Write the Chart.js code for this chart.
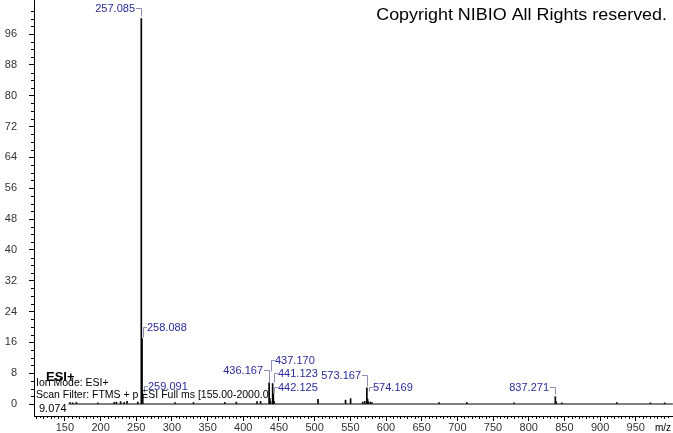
<!DOCTYPE html>
<html>
<head>
<meta charset="utf-8">
<script src="https://cdn.jsdelivr.net/npm/chart.js@4.4.0/dist/chart.umd.min.js"></script>
<style>
  body { margin: 0; background: #fff; }
  canvas { display: block; }
</style>
</head>
<body>
<canvas id="spectrum" width="673" height="433"></canvas>
<script>
// spectrum sticks (m/z, relative intensity %)
const mzValues = [157.1, 161.0, 166.1, 196.1, 219.1, 222.1, 228.1, 233.1, 237.1, 252.1,
  257.085, 258.088, 259.091, 304.3, 330.2, 374.1, 390.3, 419.2, 424.2,
  436.167, 437.170, 438.17, 441.123, 442.125, 443.13, 504.7, 543.3, 550.4,
  567.2, 570.2, 573.167, 574.169, 575.17, 578.2, 580.2, 674.4, 713.2, 779.4,
  837.271, 838.27, 846.4, 923.5, 970.6, 990.5];
const intensities = [0.4, 0.3, 0.4, 0.3, 0.4, 0.5, 0.6, 0.4, 0.7, 0.5,
  100, 17, 2.5, 0.4, 0.4, 0.4, 0.5, 0.6, 0.7,
  5.5, 1.5, 0.6, 5.3, 2.6, 0.7, 1.2, 1.0, 1.4,
  0.5, 0.7, 4.2, 1.3, 0.6, 0.5, 0.4, 0.4, 0.4, 0.3,
  1.9, 0.6, 0.3, 0.4, 0.3, 0.3];
const labeledPeaks = ['257.085', '258.088', '259.091', '436.167', '437.170',
  '441.123', '442.125', '573.167', '574.169', '837.271'];
const xTickValues = [150, 200, 250, 300, 350, 400, 450, 500, 550, 600, 650, 700, 750, 800, 850, 900, 950];
const yTickValues = [0, 8, 16, 24, 32, 40, 48, 56, 64, 72, 80, 88, 96];

// label placement (px): which side of the stick, rise above the stick top, bracket length
const labelLayout = [
  { side: 'left', rise: 11, tail: 8 },
  { side: 'right', rise: 11, tail: 10 },
  { side: 'right', rise: 8, tail: 6 },
  { side: 'left', rise: 13, tail: 12 },
  { side: 'right', rise: 38, tail: 11 },
  { side: 'right', rise: 11, tail: 9 },
  { side: 'right', rise: 7, tail: 6 },
  { side: 'left', rise: 13, tail: 11 },
  { side: 'right', rise: 12, tail: 4 },
  { side: 'left', rise: 10, tail: 7 }
];

const FONT = '"Liberation Sans", Arial, sans-serif';

function noPadding(s) {
  s.paddingTop = 0; s.paddingBottom = 0; s.paddingLeft = 0; s.paddingRight = 0;
}

const peakLabels = {
  id: 'peakLabels',
  afterDatasetsDraw(chart) {
    const ctx = chart.ctx, xs = chart.scales.x, ys = chart.scales.y;
    ctx.save();
    ctx.font = '11px ' + FONT;
    ctx.textBaseline = 'middle';
    ctx.lineWidth = 1;
    labeledPeaks.forEach((lab, i) => {
      const idx = mzValues.indexOf(parseFloat(lab));
      const px = Math.round(xs.getPixelForValue(mzValues[idx]));
      const py = ys.getPixelForValue(intensities[idx]);
      const lay = labelLayout[i];
      const ty = Math.round(py - lay.rise) + 0.5;
      ctx.strokeStyle = '#8c8cb4';
      ctx.beginPath();
      if (lay.side === 'right') {
        const bx = px + 1.5;
        ctx.moveTo(bx, ty + lay.tail);
        ctx.lineTo(bx, ty);
        ctx.lineTo(px + 5, ty);
        ctx.stroke();
        ctx.fillStyle = '#2a2a9c';
        ctx.textAlign = 'left';
        ctx.fillText(lab, px + 5, ty + 0.5);
      } else {
        const bx = px + 0.5;
        ctx.moveTo(px - 5, ty);
        ctx.lineTo(bx, ty);
        ctx.lineTo(bx, ty + lay.tail);
        ctx.stroke();
        ctx.fillStyle = '#2a2a9c';
        ctx.textAlign = 'right';
        ctx.fillText(lab, px - 6, ty + 0.5);
      }
    });
    ctx.restore();
  }
};

const minorTicks = {
  id: 'minorTicks',
  afterDraw(chart) {
    const ctx = chart.ctx, xs = chart.scales.x, ys = chart.scales.y;
    const area = chart.chartArea;
    ctx.save();
    ctx.strokeStyle = '#000';
    ctx.lineWidth = 1;
    ctx.beginPath();
    for (let v = 0; v <= 104; v += 2) {
      if (v % 8 === 0) continue;
      const y = Math.round(ys.getPixelForValue(v)) + 0.5;
      ctx.moveTo(area.left - 3, y);
      ctx.lineTo(area.left, y);
    }
    for (let v = 110; v <= 1000; v += 5) {
      if (v % 50 === 0) continue;
      const x = Math.round(xs.getPixelForValue(v)) + 0.5;
      ctx.moveTo(x, area.bottom);
      ctx.lineTo(x, area.bottom + (v % 10 === 0 ? 3 : 2));
    }
    ctx.stroke();

    // overlay texts
    ctx.fillStyle = '#000';
    ctx.textBaseline = 'alphabetic';
    ctx.textAlign = 'right';
    ctx.save();
    ctx.translate(667, 20);
    ctx.scale(1.12, 1);
    ctx.font = '16px ' + FONT;
    ctx.fillText('Copyright NIBIO All Rights reserved.', 0, 0);
    ctx.restore();
    ctx.textAlign = 'left';
    ctx.font = 'bold 13px ' + FONT;
    ctx.fillText('ESI+', 46, 381);
    ctx.font = '10.5px ' + FONT;
    ctx.fillText('Ion Mode: ESI+', 36, 386);
    ctx.save();
    ctx.beginPath();
    ctx.rect(30, 385, 240, 16);
    ctx.clip();
    ctx.fillText('Scan Filter: FTMS + p ESI Full ms [155.00-2000.00]', 36, 397.5);
    ctx.restore();
    ctx.font = '11px ' + FONT;
    ctx.fillText('9.074', 39, 411.5);
    ctx.font = '10px ' + FONT;
    ctx.fillText('m/z', 655, 431);
    ctx.restore();
  }
};

new Chart(document.getElementById('spectrum').getContext('2d'), {
  data: {
    datasets: [{
      type: 'bar',
      data: mzValues.map((m, i) => ({ x: m, y: intensities[i] })),
      backgroundColor: '#000',
      barThickness: 1,
      order: 1
    }, {
      type: 'line',
      data: [{ x: 155, y: 0 }, { x: 1002, y: 0 }],
      borderColor: '#000',
      borderWidth: 1,
      pointRadius: 0,
      order: 2
    }]
  },
  options: {
    responsive: false,
    animation: false,
    layout: { padding: 0 },
    plugins: {
      legend: { display: false },
      tooltip: { enabled: false }
    },
    scales: {
      x: {
        type: 'linear',
        offset: false,
        min: 106.7,
        max: 1002.2,
        afterFit: s => { s.height = 17; noPadding(s); },
        afterBuildTicks: s => { s.ticks = xTickValues.map(v => ({ value: v })); },
        grid: { drawOnChartArea: false, offset: false, tickLength: 5, tickColor: '#000' },
        border: { color: '#000' },
        ticks: { padding: 0, color: '#333', font: { size: 11, family: FONT }, maxRotation: 0, autoSkip: false }
      },
      y: {
        min: -3.11,
        max: 104.83,
        afterFit: s => { s.width = 34; noPadding(s); },
        afterBuildTicks: s => { s.ticks = yTickValues.map(v => ({ value: v })); },
        grid: { drawOnChartArea: false, tickLength: 5, tickColor: '#000' },
        border: { color: '#000' },
        ticks: { padding: 12, color: '#333', font: { size: 11, family: FONT } }
      }
    }
  },
  plugins: [peakLabels, minorTicks]
});
</script>
</body>
</html>
